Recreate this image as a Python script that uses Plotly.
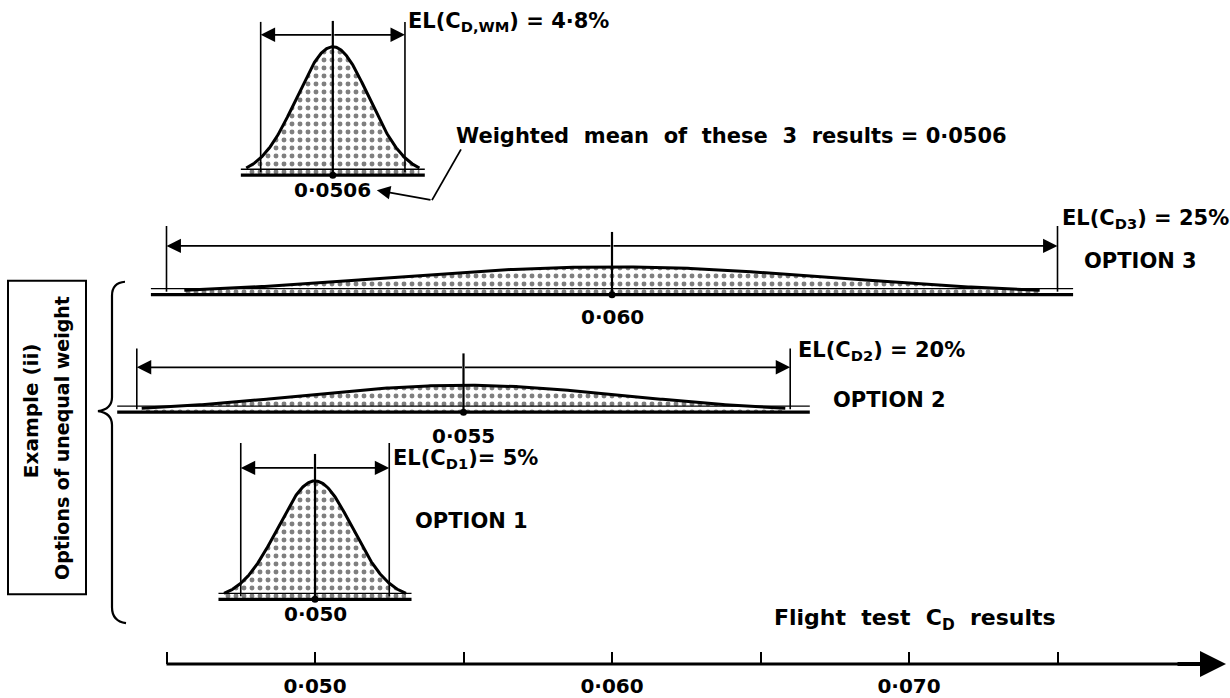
import numpy as np
import plotly.graph_objects as go

# ---------------- data ----------------
option_names = ["OPTION 1", "OPTION 2", "OPTION 3"]
option_means = [0.050, 0.055, 0.060]
option_el_pct = [5, 20, 25]
option_mean_labels = ["0·050", "0·055", "0·060"]
option_el_labels = ["EL(C<sub>D1</sub>)= 5%", "EL(C<sub>D2</sub>) = 20%", "EL(C<sub>D3</sub>) = 25%"]

wm_mean = 0.0506
wm_el_pct = 4.8
wm_mean_label = "0·0506"
wm_el_label = "EL(C<sub>D,WM</sub>) = 4·8%"
wm_note = "Weighted  mean  of  these  3  results = 0·0506"

axis_tick_vals = [0.045, 0.050, 0.055, 0.060, 0.065, 0.070, 0.075]
axis_tick_text = ["", "0·050", "", "0·060", "", "0·070", ""]
axis_title = "Flight  test  C<sub>D</sub>  results"
box_lines = ["Example (ii)", "Options of unequal weight"]

# ---------------- layout / styling ----------------
W, H = 1230, 698
BOTTOM = 31
PX_PER_UNIT = 29700.0
X_AT_PX0 = 0.050 - 315 / PX_PER_UNIT
X_RANGE = [X_AT_PX0, X_AT_PX0 + W / PX_PER_UNIT]
FONT = "DejaVu Sans"


def tfont(size):
    return dict(size=size, family=FONT, color="black", weight="bold")


# vertical placement (pixels from top) and shape sizes for each row
rows = [
    dict(base=602, peak=119, arrow=470, vtop=445, k=2.45, lab_y=617, el_y=461, el_dx=2, opt_y=523, opt_dx=24),
    dict(base=414, peak=27, arrow=369, vtop=350, k=1.97, lab_y=438, el_y=353, el_dx=6, opt_y=402, opt_dx=41),
    dict(base=296, peak=28, arrow=247, vtop=227, k=1.92, lab_y=318, el_y=220, el_dx=2, opt_y=262, opt_dx=24),
]
wm_row = dict(base=176, peak=129, arrow=35, vtop=22, k=2.4, lab_y=191, el_y=22, el_dx=1)


def paper_x(px):
    return px / W


def data_x(px):
    return X_AT_PX0 + px / PX_PER_UNIT


fig = go.Figure()
annotations = []
shapes = []


def draw_distribution(mean, el_pct, row, mean_label, el_label, opt_label=None):
    el = el_pct / 100.0 * mean
    sig = el / 2.0
    xs = np.linspace(mean - row["k"] * sig, mean + row["k"] * sig, 300)
    ys = row["base"] - row["peak"] * np.exp(-0.5 * ((xs - mean) / sig) ** 2)
    # stippled fill
    fig.add_trace(go.Scatter(
        x=np.concatenate([[xs[0]], xs, [xs[-1]]]),
        y=np.concatenate([[row["base"]], ys, [row["base"]]]),
        fill="toself", mode="lines", line=dict(width=0, color="rgba(0,0,0,0)"),
        fillcolor="white",
        fillpattern=dict(shape=".", fgcolor="black", bgcolor="white", size=8, solidity=0.3),
        hoverinfo="skip", showlegend=False))
    # curve outline
    fig.add_trace(go.Scatter(x=xs, y=ys, mode="lines", line=dict(color="black", width=3),
                             hoverinfo="skip", showlegend=False))
    # baseline band (thin top line + thick bottom line)
    x_lo, x_hi = xs[0] - 0.15 * sig, xs[-1] + 0.15 * sig
    fig.add_trace(go.Scatter(x=[x_lo, x_hi], y=[row["base"] - 6, row["base"] - 6], mode="lines",
                             line=dict(color="black", width=1.3), hoverinfo="skip", showlegend=False))
    fig.add_trace(go.Scatter(x=[x_lo, x_hi], y=[row["base"], row["base"]], mode="lines",
                             line=dict(color="black", width=3.2), hoverinfo="skip", showlegend=False))
    # EL vertical limits
    for xv in (mean - el, mean + el):
        fig.add_trace(go.Scatter(x=[xv, xv], y=[row["vtop"], row["base"] - 3], mode="lines",
                                 line=dict(color="black", width=1.6), hoverinfo="skip", showlegend=False))
    # centre line + dot
    fig.add_trace(go.Scatter(x=[mean, mean], y=[row["arrow"] - 14, row["base"]], mode="lines",
                             line=dict(color="black", width=2.2), hoverinfo="skip", showlegend=False))
    fig.add_trace(go.Scatter(x=[mean], y=[row["base"]], mode="markers",
                             marker=dict(color="black", size=7), hoverinfo="skip", showlegend=False))
    # double arrow
    for xv in (mean - el, mean + el):
        annotations.append(dict(x=xv, y=row["arrow"], ax=mean, ay=row["arrow"], xref="x", yref="y",
                                axref="x", ayref="y", text="", showarrow=True, arrowhead=2,
                                arrowsize=1.7, arrowwidth=1.7, arrowcolor="black", standoff=0))
    # labels
    annotations.append(dict(x=mean, y=row["lab_y"], xref="x", yref="y", text=mean_label,
                            showarrow=False, font=tfont(20), xanchor="center", yanchor="middle"))
    annotations.append(dict(x=mean + el, y=row["el_y"], xref="x", yref="y", text=el_label,
                            showarrow=False, font=tfont(21), xanchor="left", yanchor="middle",
                            xshift=row["el_dx"]))
    if opt_label:
        annotations.append(dict(x=mean + el, y=row["opt_y"], xref="x", yref="y", text=opt_label,
                                showarrow=False, font=tfont(21), xanchor="left", yanchor="middle",
                                xshift=row["opt_dx"]))
    return el


for name, m, e, ml, elab, row in zip(option_names, option_means, option_el_pct,
                                     option_mean_labels, option_el_labels, rows):
    draw_distribution(m, e, row, ml, elab, name)

draw_distribution(wm_mean, wm_el_pct, wm_row, wm_mean_label, wm_el_label)

# weighted-mean note with leader line and arrow
wm_px = (wm_mean - X_AT_PX0) * PX_PER_UNIT
annotations.append(dict(x=paper_x(454), y=137, xref="paper", yref="y", text=wm_note, showarrow=False,
                        font=tfont(21), xanchor="left", yanchor="middle"))
shapes.append(dict(type="line", xref="paper", yref="y", x0=paper_x(461), y0=150, x1=paper_x(432), y1=201,
                   line=dict(color="black", width=1.8)))
annotations.append(dict(x=data_x(wm_px + 44), y=191, ax=data_x(432), ay=201, xref="x", yref="y",
                        axref="x", ayref="y", text="", showarrow=True, arrowhead=2, arrowsize=1.5,
                        arrowwidth=1.8, arrowcolor="black", standoff=0))

# bottom axis line with arrow
shapes.append(dict(type="line", xref="x", yref="paper", x0=axis_tick_vals[0], x1=data_x(1200),
                   y0=0, y1=0, line=dict(color="black", width=3)))
annotations.append(dict(x=data_x(1226), y=0, ax=-50, ay=0,
                        xref="x", yref="paper", axref="pixel", ayref="pixel", text="", showarrow=True,
                        arrowhead=2, arrowsize=1.3, arrowwidth=4, arrowcolor="black", standoff=0))
annotations.append(dict(x=paper_x(772), y=622, xref="paper", yref="y", text=axis_title, showarrow=False,
                        font=tfont(22), xanchor="left", yanchor="middle"))

# brace
bx = 112
brace = (f"M {paper_x(125)},283 Q {paper_x(bx)},284 {paper_x(bx)},297 L {paper_x(bx)},399 "
         f"Q {paper_x(bx)},411 {paper_x(98)},413 Q {paper_x(bx)},415 {paper_x(bx)},427 "
         f"L {paper_x(bx)},610 Q {paper_x(bx)},624 {paper_x(126)},626")
shapes.append(dict(type="path", xref="paper", yref="y", path=brace, line=dict(color="black", width=2.2)))

# framed box with rotated text
shapes.append(dict(type="rect", xref="paper", yref="y", x0=paper_x(8), x1=paper_x(86), y0=282, y1=597,
                   line=dict(color="black", width=2)))
annotations.append(dict(x=paper_x(31), y=413, xref="paper", yref="y", text=box_lines[0], textangle=-90,
                        showarrow=False, font=tfont(20), xanchor="center", yanchor="middle"))
annotations.append(dict(x=paper_x(62), y=440, xref="paper", yref="y", text=box_lines[1], textangle=-90,
                        showarrow=False, font=tfont(19), xanchor="center", yanchor="middle"))

fig.update_layout(
    width=W, height=H,
    margin=dict(l=0, r=0, t=0, b=BOTTOM),
    plot_bgcolor="white", paper_bgcolor="white",
    showlegend=False,
    annotations=annotations,
    shapes=shapes,
    xaxis=dict(range=X_RANGE, showgrid=False, zeroline=False, showline=False,
               tickmode="array", tickvals=axis_tick_vals, ticktext=axis_tick_text,
               ticks="inside", ticklen=12, tickwidth=2, tickcolor="black",
               tickfont=tfont(20), ticklabelstandoff=8, fixedrange=True),
    yaxis=dict(range=[H - BOTTOM, 0], visible=False, fixedrange=True),
)

fig.write_html("out.html", config={"displayModeBar": False},
               post_script="document.body.style.margin='0px';document.body.style.overflow='hidden';")
